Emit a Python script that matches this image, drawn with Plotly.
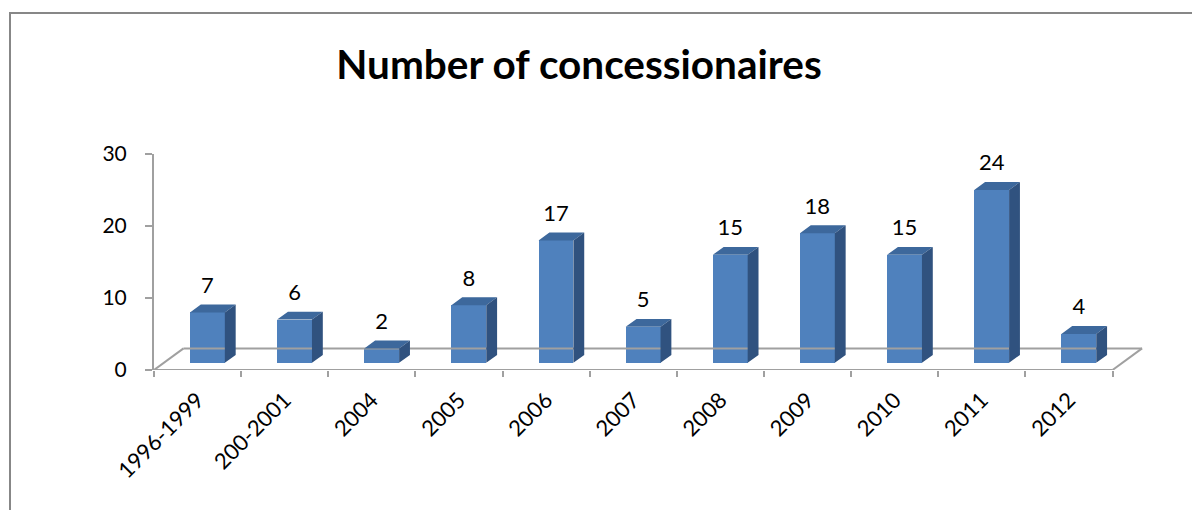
import plotly.graph_objects as go

# Data
categories = ["1996-1999", "200-2001", "2004", "2005", "2006", "2007",
              "2008", "2009", "2010", "2011", "2012"]
values = [7, 6, 2, 8, 17, 5, 15, 18, 15, 24, 4]
y_ticks = [0, 10, 20, 30]

# Page geometry
W, H = 1192, 510
M_L, M_R, M_T, M_B = 154, 42, 154, 140
X_MAX = 11.43
Y_MAX = 30

# Pseudo-3D floor depth (data units) and bar depth fractions
DEPTH_X, DEPTH_Y = 0.339, 3.0
FRONT, BACK = 0.333, 0.70
BAR_W = 0.40

FRONT_C = "#4F81BD"
TOP_C = "#3D689C"
SIDE_C = "#30527F"
AXIS_C = "#A0A0A0"
FONT = "Lato"

n = len(categories)
centers = [i + 0.5 for i in range(n)]
fx, fy = FRONT * DEPTH_X, FRONT * DEPTH_Y
bx, by = BACK * DEPTH_X, BACK * DEPTH_Y
ddx, ddy = bx - fx, by - fy

fig = go.Figure()

# Floor outline
floor_x = [0, n, None, DEPTH_X, n + DEPTH_X, None, 0, DEPTH_X, None, n, n + DEPTH_X]
floor_y = [0, 0, None, DEPTH_Y, DEPTH_Y, None, 0, DEPTH_Y, None, 0, DEPTH_Y]
fig.add_trace(go.Scatter(x=floor_x, y=floor_y, mode="lines",
                         line=dict(color=AXIS_C, width=2),
                         hoverinfo="skip", showlegend=False))

# Front faces of the bars
fig.add_trace(go.Bar(x=[c + fx for c in centers], y=values, base=fy,
                     width=BAR_W, marker=dict(color=FRONT_C, line=dict(width=0)),
                     showlegend=False))

# Top and side faces
top_x, top_y, side_x, side_y = [], [], [], []
for c, v in zip(centers, values):
    x0 = c + fx - BAR_W / 2
    x1 = c + fx + BAR_W / 2
    yt = fy + v
    top_x += [x0, x1, x1 + ddx, x0 + ddx, x0, None]
    top_y += [yt, yt, yt + ddy, yt + ddy, yt, None]
    side_x += [x1, x1 + ddx, x1 + ddx, x1, x1, None]
    side_y += [fy, fy + ddy, yt + ddy, yt, fy, None]
fig.add_trace(go.Scatter(x=top_x, y=top_y, mode="lines", fill="toself",
                         fillcolor=TOP_C, line=dict(width=0, color=TOP_C),
                         hoverinfo="skip", showlegend=False))
fig.add_trace(go.Scatter(x=side_x, y=side_y, mode="lines", fill="toself",
                         fillcolor=SIDE_C, line=dict(width=0, color=SIDE_C),
                         hoverinfo="skip", showlegend=False))

# Value labels
fig.add_trace(go.Scatter(x=[c + fx for c in centers], y=[v + 4.5 for v in values],
                         mode="text", text=[str(v) for v in values],
                         textposition="middle center",
                         textfont=dict(family=FONT, size=22, color="#000000"),
                         cliponaxis=False, hoverinfo="skip", showlegend=False))

# Outer frame
pw = W - M_L - M_R
ph = H - M_T - M_B
fig.add_shape(type="rect", xref="paper", yref="paper",
              x0=(10 - M_L) / pw, x1=(W + 20 - M_L) / pw,
              y0=-(H + 20 - (H - M_B)) / ph, y1=((H - M_B) - 13) / ph,
              line=dict(color="#878787", width=2), fillcolor="rgba(0,0,0,0)",
              layer="below")

fig.update_layout(
    width=W, height=H, autosize=False,
    margin=dict(l=M_L, r=M_R, t=M_T, b=M_B, pad=0),
    paper_bgcolor="white", plot_bgcolor="white",
    title=dict(text="<b>Number of concessionaires</b>", x=(579) / W, xanchor="center",
               y=1 - 65 / H, yanchor="middle",
               font=dict(family=FONT, size=40.5, color="#000000")),
    bargap=0,
    xaxis=dict(range=[0, X_MAX], tickmode="array", tickvals=centers, ticktext=categories,
               tickangle=-45, ticks="", showgrid=False, zeroline=False, showline=False,
               ticklabelstandoff=12,
               tickfont=dict(family=FONT, size=22, color="#000000"),
               minor=dict(ticks="outside", tickmode="linear", tick0=0, dtick=1,
                          ticklen=6, tickwidth=2, tickcolor=AXIS_C, showgrid=False),
               fixedrange=True),
    yaxis=dict(range=[0, Y_MAX], tickmode="array", tickvals=y_ticks,
               ticks="outside", ticklen=7, tickwidth=2, tickcolor=AXIS_C,
               showline=True, linecolor=AXIS_C, linewidth=2,
               showgrid=False, zeroline=False, ticklabelstandoff=14,
               tickfont=dict(family=FONT, size=21, color="#000000"),
               fixedrange=True),
)

fig.write_html("out.html")
